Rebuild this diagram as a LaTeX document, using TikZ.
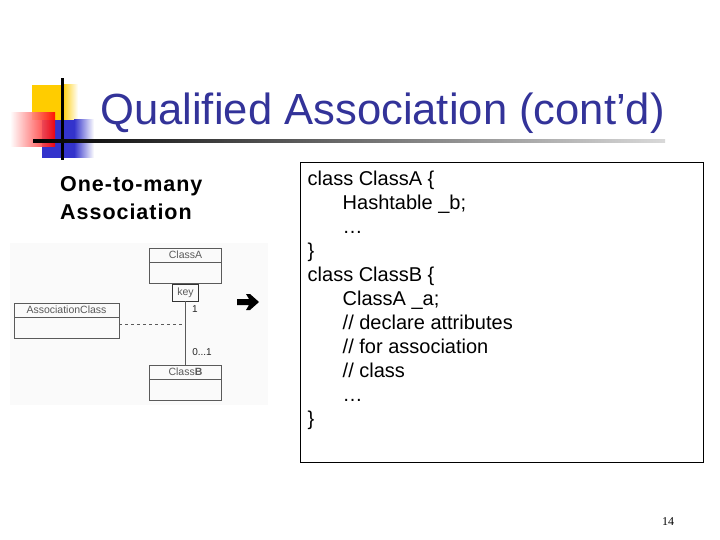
\documentclass[tikz,border=0pt]{standalone}
\usepackage{fontspec}
\setmainfont{Liberation Sans}
\newfontfamily\widebold[LetterSpace=4.5,BoldFont={Liberation Sans Bold}]{Liberation Sans}
\newfontfamily\numfont{Liberation Serif}
\usetikzlibrary{positioning}
\definecolor{titleblue}{RGB}{51,51,153}
\definecolor{logoyellow}{RGB}{255,204,0}
\definecolor{logoblue}{RGB}{51,51,204}
\definecolor{logored}{RGB}{255,0,0}
\definecolor{umlgray}{RGB}{90,90,90}

\begin{document}
\begin{tikzpicture}[x=1pt,y=-1pt,
  umlhead/.style={draw=umlgray,rectangle,minimum height=14pt,inner sep=0pt,
    font=\fontsize{10.5}{11}\selectfont,text=umlgray},
  umlbody/.style={draw=umlgray,rectangle,minimum height=21pt,inner sep=0pt},
  mult/.style={font=\fontsize{10}{11}\selectfont,text=black!85,inner sep=0pt}]
  \useasboundingbox (0,0) rectangle (720,540);

  \fill[logoyellow] (32,85) rectangle (62,120);
  \shade[left color=logoyellow,right color=white] (62,85) rectangle (78,120);
  \fill[logoblue] (42,120) rectangle (74,158);
  \shade[left color=logoblue,right color=white] (74,120) rectangle (94,158);
  \shade[left color=white,right color=logored,opacity=0.9] (10,113) rectangle (55,147);
  \fill (60.5,78) rectangle (63.5,160);
  \shade[left color=black,right color=black!15] (33,139.5) rectangle (665,142.5);

  \node[anchor=base west,inner sep=0pt,text=titleblue,font=\fontsize{43.6}{48}\selectfont]
    (title) at (100,125) {Qualified Association (cont’d)};

  \node[anchor=base west,inner sep=0pt,align=left,font=\widebold\bfseries\fontsize{21.5}{28}\selectfont]
    (kind) at (60,219) {One-to-many\\Association};

  \fill[black!2] (10,243) rectangle (268,405);
  \node[umlhead,minimum width=72pt] (classA) at (185.5,255) {ClassA};
  \node[umlbody,minimum width=72pt,below=0pt of classA] (classAbody) {};
  \node[umlhead,draw=black!80,minimum width=26pt,minimum height=17pt,below=0pt of classAbody] (key) {key};
  \node[umlhead,minimum width=72pt] (classB) at (185.5,372) {Class\textbf{B}};
  \node[umlbody,minimum width=72pt,below=0pt of classB] (classBbody) {};
  \node[umlhead,minimum width=105pt] (assoc) at (66.5,310) {AssociationClass};
  \node[umlbody,minimum width=105pt,below=0pt of assoc] (assocbody) {};
  \coordinate (link) at (185.5,324);
  \draw[umlgray] (key.south) -- (classB.north);
  \draw[umlgray,dashed] (assocbody.east |- link) -- (link);
  \node[mult] (one) at (195,309) {1};
  \node[mult] (zeroone) at (202,352) {0...1};

  \fill (237,299) -- (249,299) -- (246,294) -- (250,294) -- (259,302) -- (250,310)
    -- (246,310) -- (249,305) -- (237,305) -- cycle;

  \node[draw,line width=0.8pt,minimum width=403pt,minimum height=300pt,inner sep=0pt,
    anchor=north west] (codebox) at (300,162) {};
  \node[anchor=north west,inner sep=0pt,align=left,font=\fontsize{20}{24}\selectfont]
    (code) at (307.5,170.5) {class ClassA \{\\
    \hspace*{35pt}Hashtable \_b;\\
    \hspace*{35pt}…\\
    \}\\
    class ClassB \{\\
    \hspace*{35pt}ClassA \_a;\\
    \hspace*{35pt}// declare attributes\\
    \hspace*{35pt}// for association\\
    \hspace*{35pt}// class\\
    \hspace*{35pt}…\\
    \}};

  \node[font=\numfont\fontsize{12}{14}\selectfont] (page) at (668,522) {14};
\end{tikzpicture}
\end{document}
